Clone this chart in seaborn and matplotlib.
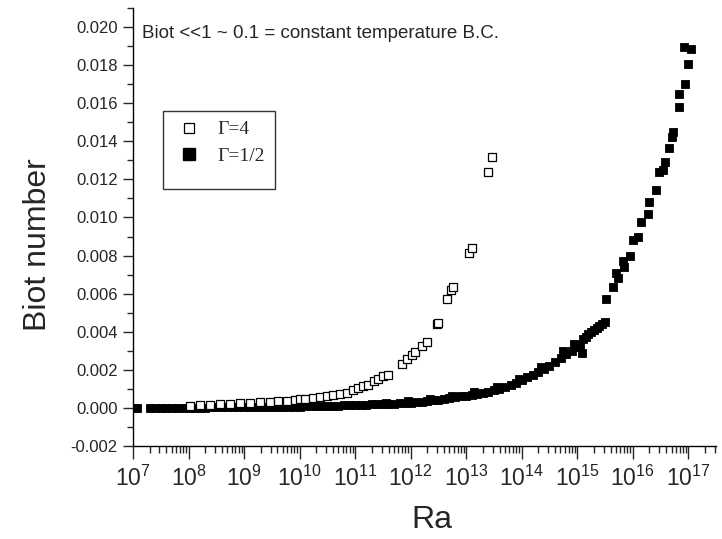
import numpy as np
import pandas as pd
import matplotlib
matplotlib.use("Agg")
import matplotlib.pyplot as plt
import seaborn as sns
from matplotlib.lines import Line2D
from matplotlib.patches import Rectangle
from matplotlib.ticker import LogLocator, NullFormatter, FixedLocator, MultipleLocator

# ---- data (exponent of Ra, Biot number) ----
g4_exp = [8.03, 8.21, 8.39, 8.57, 8.75, 8.93, 9.11, 9.29, 9.47, 9.62, 9.77, 9.92,
          10.01, 10.10, 10.25, 10.37, 10.49, 10.61, 10.73, 10.85, 10.97, 11.06,
          11.15, 11.24, 11.34, 11.42, 11.51, 11.60, 11.85, 11.94, 12.03, 12.07,
          12.21, 12.30, 12.48, 12.50, 12.66, 12.72, 12.77, 13.06, 13.11, 13.40, 13.46]
g4_biot = [0.00012, 0.00014, 0.00016, 0.00020, 0.00021, 0.00024, 0.00026, 0.00030,
           0.00033, 0.00035, 0.00038, 0.00042, 0.00045, 0.00049, 0.00054, 0.00058,
           0.00061, 0.00066, 0.00072, 0.00079, 0.00093, 0.00105, 0.00114, 0.00122,
           0.00140, 0.00152, 0.00166, 0.00175, 0.00229, 0.00255, 0.00278, 0.00292,
           0.00327, 0.00345, 0.00441, 0.00445, 0.00572, 0.00619, 0.00637, 0.00815,
           0.00838, 0.01237, 0.01316]

g12_exp = [7.00, 7.08, 7.30, 7.40, 7.50, 7.60, 7.70, 7.80, 7.90, 8.00, 8.10, 8.20,
           8.30, 8.40, 8.50, 8.60, 8.70, 8.80, 8.90, 9.00, 9.10, 9.20, 9.30, 9.40,
           9.50, 9.60, 9.70, 9.80, 9.90, 10.00, 10.10, 10.20, 10.30, 10.40, 10.50,
           10.60, 10.70, 10.80, 10.90, 11.00, 11.10, 11.20, 11.30, 11.40, 11.50,
           11.60, 11.70, 11.80, 11.90, 12.00, 12.10, 12.20, 12.30, 12.40, 12.50,
           12.60, 12.70, 12.80, 12.90, 13.00, 13.10, 13.20, 13.30, 13.40, 13.50,
           13.60, 13.70, 13.80, 13.90, 14.00, 14.10, 14.20, 14.30, 14.40, 14.50,
           14.60, 14.70, 14.80, 14.90, 15.00, 15.05, 15.08, 15.10, 15.15, 15.20,
           15.25, 15.30, 15.35, 15.40, 15.45, 15.50,
           11.55, 11.95, 12.35, 12.75, 13.15, 13.55, 13.95, 14.35, 14.75, 14.95,
           15.51, 15.65, 15.70, 15.74, 15.83, 15.85, 15.95, 16.00, 16.10, 16.15,
           16.27, 16.30, 16.42, 16.48, 16.54, 16.59, 16.65, 16.71, 16.72, 16.83,
           16.84, 16.95, 16.99, 16.93, 17.05]
g12_biot = [0.0, 0.0, 0.0, 0.0, 0.00001, 0.00001, 0.00001, 0.00001, 0.00002, 0.00002,
            0.00002, 0.00002, 0.00002, 0.00003, 0.00003, 0.00003, 0.00003, 0.00003,
            0.00004, 0.00004, 0.00004, 0.00004, 0.00005, 0.00005, 0.00005, 0.00006,
            0.00006, 0.00006, 0.00007, 0.00007, 0.00008, 0.00008, 0.00009, 0.00009,
            0.00010, 0.00011, 0.00012, 0.00013, 0.00014, 0.00015, 0.00016, 0.00017,
            0.00018, 0.00019, 0.00020, 0.00021, 0.00023, 0.00024, 0.00026, 0.00028,
            0.00030, 0.00033, 0.00036, 0.00039, 0.00042, 0.00046, 0.00050, 0.00055,
            0.00060, 0.00065, 0.00070, 0.00075, 0.00080, 0.00086, 0.00092, 0.00100,
            0.00110, 0.00120, 0.00130, 0.00145, 0.00160, 0.00173, 0.00190, 0.00205,
            0.00220, 0.00240, 0.00260, 0.00285, 0.00300, 0.00320, 0.00330, 0.00290,
            0.00360, 0.00370, 0.00390, 0.00400, 0.00410, 0.00420, 0.00430, 0.00440,
            0.00450,
            0.00028, 0.00036, 0.00046, 0.00060, 0.00082, 0.00110, 0.00152, 0.00215,
            0.00300, 0.00335,
            0.00571, 0.00634, 0.00710, 0.00681, 0.00773, 0.00742, 0.00798, 0.00882,
            0.00896, 0.00978, 0.01018, 0.01083, 0.01144, 0.01240, 0.01249, 0.01293,
            0.01366, 0.01424, 0.01450, 0.01578, 0.01647, 0.01701, 0.01806, 0.01893,
            0.01883]

labels = ["\u0393=4", "\u0393=1/2"]
y_ticks = [-0.002, 0.000, 0.002, 0.004, 0.006, 0.008, 0.010, 0.012, 0.014, 0.016, 0.018, 0.020]
x_exps = list(range(7, 18))
annotation = "Biot <<1 ~ 0.1 = constant temperature B.C."

# ---- styling ----
sns.set_style("white")
plt.rcParams["font.family"] = ["Liberation Sans", "DejaVu Sans"]
plt.rcParams["mathtext.default"] = "regular"
plt.rcParams["axes.unicode_minus"] = False

fig = plt.figure(figsize=(7.22, 5.39), dpi=100)
ax = fig.add_axes([133 / 722, 93 / 539, 583 / 722, 438 / 539])

df4 = pd.DataFrame({"Ra": np.power(10.0, g4_exp), "Biot": g4_biot})
df12 = pd.DataFrame({"Ra": np.power(10.0, g12_exp), "Biot": g12_biot})

sns.scatterplot(data=df12, x="Ra", y="Biot", marker="s", s=36, color="black",
                edgecolor="black", linewidth=0.6, ax=ax, zorder=2)
sns.scatterplot(data=df4, x="Ra", y="Biot", marker="s", s=30, color="white",
                edgecolor="black", linewidth=0.9, ax=ax, zorder=3)

ax.set_xscale("log")
ax.set_xlim(1e7, 10 ** 17.5)
ax.set_ylim(-0.002, 0.021)

ax.xaxis.set_major_locator(FixedLocator([10.0 ** e for e in x_exps]))
ax.set_xticklabels([f"$10^{{{e}}}$" for e in x_exps], fontsize=16.5)
ax.xaxis.set_minor_locator(LogLocator(base=10, subs=np.arange(2, 10), numticks=100))
ax.xaxis.set_minor_formatter(NullFormatter())

ax.set_yticks(y_ticks)
ax.set_yticklabels([f"{v:.3f}" for v in y_ticks], fontsize=12)
ax.yaxis.set_minor_locator(MultipleLocator(0.001))

for s in ["top", "right"]:
    ax.spines[s].set_visible(False)
for s in ["left", "bottom"]:
    ax.spines[s].set_linewidth(1.0)
    ax.spines[s].set_color("black")

ax.tick_params(axis="x", which="major", direction="out", length=9, width=1, pad=5, bottom=True)
ax.tick_params(axis="x", which="minor", direction="out", length=5, width=1, bottom=True)
ax.tick_params(axis="y", which="major", direction="out", length=7, width=1, pad=4, left=True)
ax.tick_params(axis="y", which="minor", direction="out", length=4, width=1, left=True)

ax.set_xlabel("Ra", fontsize=23)
ax.set_ylabel("Biot number", fontsize=23)
ax.xaxis.set_label_coords(0.513, -0.135)
ax.yaxis.set_label_coords(-0.163, 0.459)
ax.yaxis.label.set_va("center")

ax.text(9 / 583, (446 - 38) / 438, annotation, transform=ax.transAxes,
        fontsize=13.5, ha="left", va="baseline")

# legend box
ax.add_patch(Rectangle(((163 - 133) / 583, (446 - 189) / 438), 112 / 583, 78 / 438,
                       transform=ax.transAxes, fill=False, edgecolor="#333333",
                       linewidth=1.0, zorder=4))
handles = [Line2D([], [], linestyle="none", marker="s", markersize=7, markerfacecolor="white",
                  markeredgecolor="black", markeredgewidth=0.9),
           Line2D([], [], linestyle="none", marker="s", markersize=8, markerfacecolor="black",
                  markeredgecolor="black")]
leg = ax.legend(handles, labels, loc="upper left",
                bbox_to_anchor=((175 - 133) / 583, (446 - 117) / 438),
                frameon=False, prop={"family": "Liberation Serif", "size": 14},
                handlelength=1.0, handletextpad=1.0, labelspacing=0.45, borderpad=0.2,
                borderaxespad=0)

fig.savefig("out.png", dpi=100)
